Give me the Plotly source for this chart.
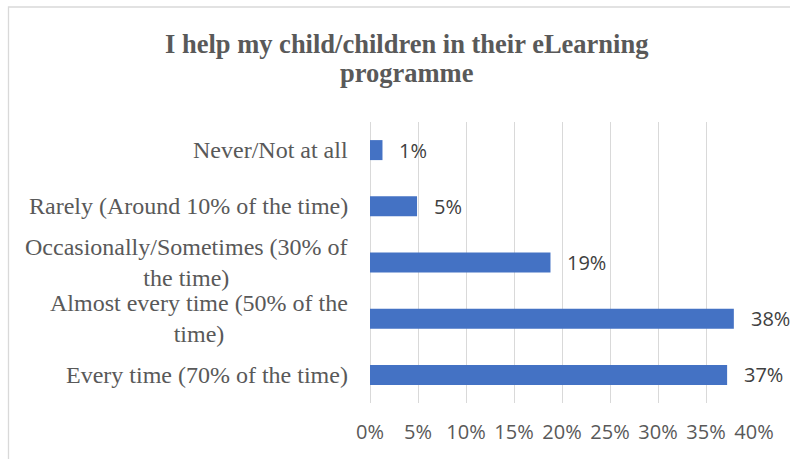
import plotly.graph_objects as go

# Survey responses
categories = [
    "Never/Not at all",
    "Rarely (Around 10% of the time)",
    "Occasionally/Sometimes (30% of<br>the time)",
    "Almost every time (50% of the<br>time)",
    "Every time (70% of the time)",
]
shares = [0.013, 0.049, 0.188, 0.379, 0.372]
title_lines = ["I help my child/children in their eLearning", "programme"]
x_ticks = [0, 0.05, 0.10, 0.15, 0.20, 0.25, 0.30, 0.35, 0.40]

W, H = 790, 459
L, R, T, B = 370, 36, 122, 56
plot_h = H - T - B
plot_w = W - L - R


def py(y_px):
    """Pixel row -> paper y."""
    return (H - B - y_px) / plot_h


def px(x_px):
    """Pixel column -> paper x."""
    return (x_px - L) / plot_w


GRID = "#D9D9D9"
TEXT = "#595959"
SERIF = "Liberation Serif, Times New Roman, serif"
SANS = "Open Sans, Liberation Sans, sans-serif"

fig = go.Figure(
    go.Bar(
        x=shares,
        y=categories,
        orientation="h",
        marker=dict(color="#4472C4", line=dict(width=0)),
        hoverinfo="skip",
    )
)

annotations = []

# Title, two lines
for line, ypx in zip(title_lines, [44, 73]):
    annotations.append(dict(
        text=line, xref="paper", yref="paper", x=px(406.5), y=py(ypx),
        xanchor="center", yanchor="middle", showarrow=False,
        font=dict(family=SERIF, size=26.5, color=TEXT, weight="bold"),
    ))

# Category labels: right-aligned block, wrapped lines centred
for cat in categories:
    annotations.append(dict(
        text=cat, xref="paper", yref="y", x=0, y=cat,
        xanchor="right", yanchor="middle", align="center", showarrow=False,
        xshift=-20, font=dict(family=SERIF, size=24, color=TEXT),
    ))

# Data labels
for cat, v in zip(categories, shares):
    annotations.append(dict(
        text=f"{v:.0%}", xref="x", yref="y", x=v, y=cat,
        xanchor="left", yanchor="middle", showarrow=False, xshift=15,
        font=dict(family=SANS, size=20, color="#404040"),
    ))

fig.update_layout(
    width=W, height=H,
    margin=dict(l=L, r=R, t=T, b=B, pad=0),
    paper_bgcolor="white", plot_bgcolor="white",
    showlegend=False,
    bargap=0.644,
    annotations=annotations,
    shapes=[dict(
        type="rect", xref="paper", yref="paper",
        x0=px(8.5), x1=px(800), y0=py(470), y1=py(7),
        line=dict(color=GRID, width=1.3), fillcolor="rgba(0,0,0,0)", layer="below",
    )],
    xaxis=dict(
        range=[0, 0.4], tickvals=x_ticks, tickformat=".0%",
        showgrid=True, gridcolor=GRID, gridwidth=1.3,
        zeroline=True, zerolinecolor=GRID, zerolinewidth=1.3,
        showline=False, ticks="", ticklabelstandoff=15,
        tickfont=dict(family=SANS, size=20, color=TEXT),
        fixedrange=True,
    ),
    yaxis=dict(
        autorange="reversed", showticklabels=False, showgrid=False,
        zeroline=False, showline=False, ticks="", fixedrange=True,
    ),
)

fig.write_html("out.html")
